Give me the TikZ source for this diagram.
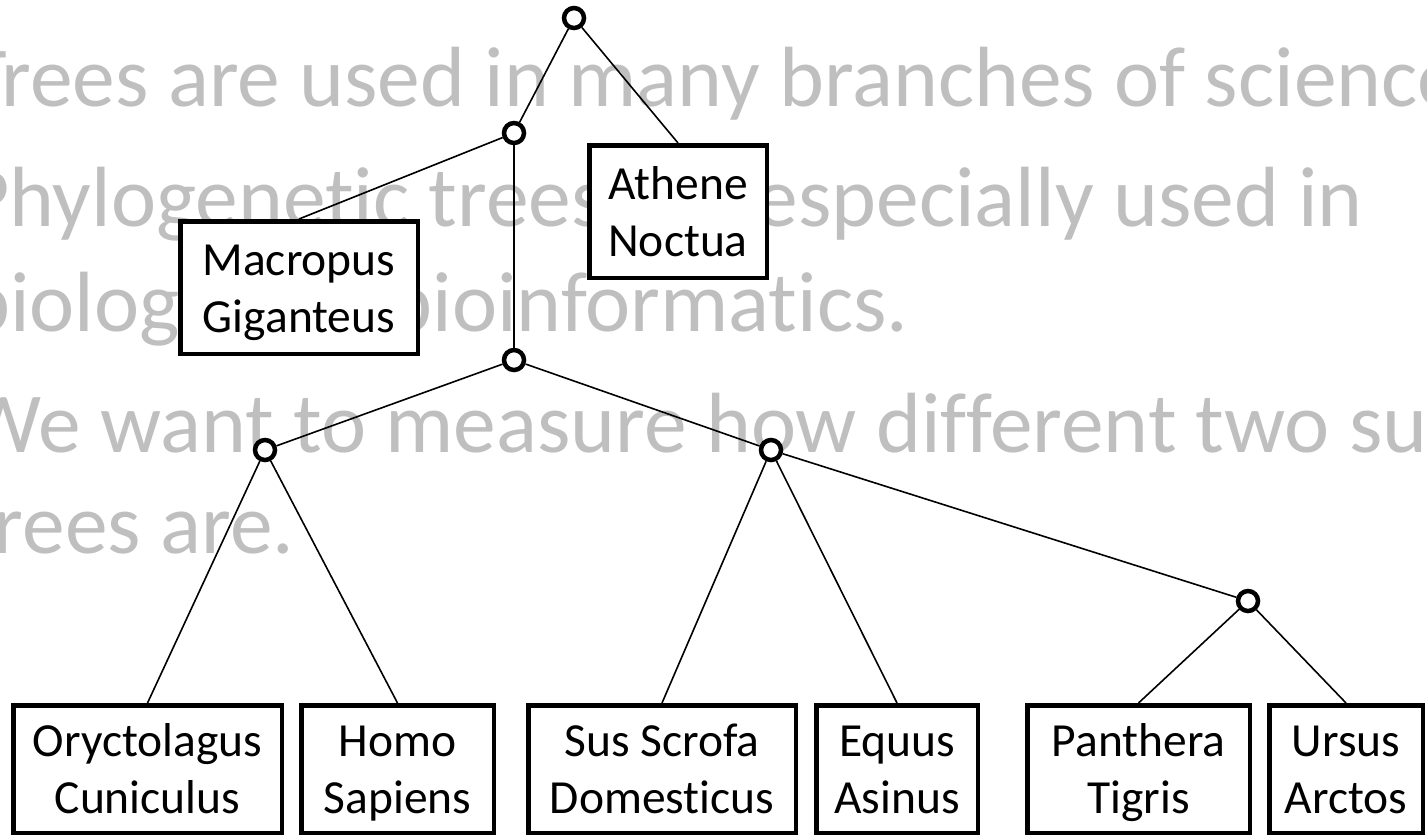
\documentclass[tikz,border=0pt]{standalone}
\usepackage{fontspec}
\setmainfont[Ligatures=NoCommon]{Carlito}
\usetikzlibrary{positioning}
\tikzset{
slideline/.style={anchor=base west,inner sep=0pt,text=black!25,font=\fontsize{85.5}{103}\selectfont},
species/.style={draw,line width=4.5pt,fill=white,align=center,inner sep=0pt,font=\fontsize{47.5}{57}\selectfont,
  text height=101pt,text depth=12pt},
junction/.style={draw,circle,line width=4.5pt,fill=white,minimum size=20pt,inner sep=0pt},
branch/.style={line width=1.6pt}
}

\begin{document}
\begin{tikzpicture}[x=1pt,y=-1pt]
\useasboundingbox (0,0) rectangle (1427,839);
\clip (0,0) rectangle (1427,839);
% slide text behind the tree
\node[slideline] (science) at (-35,106) {Trees are used in many branches of science.};
\node[slideline] (phylo) at (-35,226) {Phylogenetic trees are especially used in};
\node[slideline] (biology) at (-35,331) {biology and bioinformatics.};
\node[slideline] (measure) at (-35,452) {We want to measure how different two such};
\node[slideline] (trees) at (-35,553) {trees are.};

% inner vertices
\node[junction] (root) at (574,18) {};
\node[junction] (j2) at (514,133) {};
\node[junction] (j3) at (514,360) {};
\node[junction] (j4) at (265,450) {};
\node[junction] (j5) at (771,450) {};
\node[junction] (j6) at (1248,601) {};

% leaves
\node[species,minimum width=177.5pt,minimum height=132.5pt] (athene) at (678,211.5) {Athene\\Noctua};
\node[species,minimum width=237.5pt,minimum height=132.5pt] (macropus) at (299,287.5) {Macropus\\Giganteus};
\node[species,minimum width=268.5pt,minimum height=127.5pt,anchor=north west] (oryct) at (11,703) {Oryctolagus\\Cuniculus};
\node[species,minimum width=192.5pt,minimum height=127.5pt,right=15pt of oryct] (homo) {Homo\\Sapiens};
\node[species,minimum width=267.5pt,minimum height=127.5pt,right=30pt of homo] (sus) {Sus Scrofa\\Domesticus};
\node[species,minimum width=161.5pt,minimum height=127.5pt,right=16pt of sus] (equus) {Equus\\Asinus};
\node[species,minimum width=222.5pt,minimum height=127.5pt,right=45pt of equus] (panthera) {Panthera\\Tigris};
\node[species,minimum width=153.5pt,minimum height=127.5pt,right=15pt of panthera] (ursus) {Ursus\\Arctos};

\draw[branch](root)--(j2);
\draw[branch](root)--(athene.north);
\draw[branch](j2)--(macropus.north);
\draw[branch](j2)--(j3);
\draw[branch](j3)--(j4);
\draw[branch](j3)--(j5);
\draw[branch](j4)--(oryct.north);
\draw[branch](j4)--(homo.north);
\draw[branch](j5)--(sus.north);
\draw[branch](j5)--(equus.north);
\draw[branch](j5)--(j6);
\draw[branch](j6)--(panthera.north);
\draw[branch](j6)--(ursus.north);
\end{tikzpicture}
\end{document}
